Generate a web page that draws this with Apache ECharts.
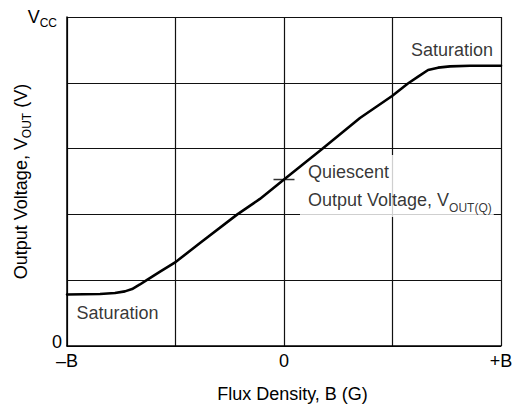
<!DOCTYPE html>
<html>
<head>
<meta charset="utf-8">
<script src="https://cdn.jsdelivr.net/npm/echarts@6/dist/echarts.min.js"></script>
<style>html,body{margin:0;padding:0;background:#fff}#c{width:516px;height:405px}</style>
</head>
<body>
<div id="c"></div>
<script>
// ---- data (normalised: B from -1 (–B) to +1 (+B), Vout from 0 to 1 (Vcc)) ----
const fluxB = [-1, -0.848, -0.779, -0.733, -0.700, -0.664, -0.631, -0.571, -0.498, -0.387, -0.215, -0.111, 0.0, 0.174, 0.350, 0.498, 0.571, 0.618, 0.664, 0.710, 0.765, 0.857, 1.0];
const vOut  = [0.1565, 0.158, 0.161, 0.166, 0.173, 0.187, 0.201, 0.226, 0.256, 0.313, 0.400, 0.447, 0.506, 0.598, 0.693, 0.760, 0.798, 0.819, 0.839, 0.846, 0.850, 0.852, 0.852];
const xTickValues = [-1, -0.5, 0, 0.5, 1];
const xTickLabels = ['–B', '', '0', '', '+B'];
const yTickValues = [0, 0.2, 0.4, 0.6, 0.8, 1];
const yTickLabels = ['{z|0}', '', '', '', '', '{v|V}{s|CC}'];
const quiescentPoint = [0, 0.506];
const annotationText = ['Saturation', 'Saturation'];
const annotationPos = [[0.774, 0.90], [-0.767, 0.10]];
const quiescentLabelPos = [0.0737, 0.486];

const FONT = "'Liberation Sans', Arial, Helvetica, sans-serif";
const FS = 18;
const chart = echarts.init(document.getElementById('c'), null, {renderer: 'svg'});

const option = {
  animation: false,
  backgroundColor: '#fff',
  textStyle: {fontFamily: FONT, color: '#000'},
  grid: {left: 67, right: 15, top: 17, bottom: 59, show: false, containLabel: false, outerBoundsMode: 'none'},
  xAxis: {
    type: 'value', min: -1, max: 1, interval: 0.5,
    name: 'Flux Density, B (G)', nameLocation: 'middle', nameGap: 39, nameMoveOverlap: false,
    nameTextStyle: {fontSize: FS, fontFamily: FONT, color: '#000', padding: [0, 0, 0, 17]},
    axisLine: {show: true, onZero: false, lineStyle: {color: '#000', width: 1.5}},
    axisTick: {show: false},
    splitLine: {show: true, lineStyle: {color: '#111', width: 1.2}},
    axisLabel: {
      fontSize: FS, fontFamily: FONT, color: '#000', margin: 6,
      formatter: v => { const i = xTickValues.findIndex(t => Math.abs(t - v) < 1e-9); return i >= 0 ? xTickLabels[i] : ''; }
    }
  },
  yAxis: {
    type: 'value', min: 0, max: 1, interval: 0.2,
    name: '{m|Output Voltage, V}{s|OUT}{m| (V)}', nameLocation: 'middle', nameGap: 34, nameRotate: 90, nameMoveOverlap: false,
    nameTextStyle: {
      fontFamily: FONT, color: '#000',
      rich: {
        m: {fontSize: FS, fontFamily: FONT, lineHeight: 24, verticalAlign: 'middle'},
        s: {fontSize: 12, fontFamily: FONT, lineHeight: 12, verticalAlign: 'bottom'}
      }
    },
    axisLine: {show: true, onZero: false, lineStyle: {color: '#000', width: 1.5}},
    axisTick: {show: false},
    splitLine: {show: true, lineStyle: {color: '#111', width: 1.2}},
    axisLabel: {
      fontFamily: FONT, color: '#000', margin: 5,
      formatter: v => { const i = yTickValues.findIndex(t => Math.abs(t - v) < 1e-9); return i >= 0 ? yTickLabels[i] : ''; },
      rich: {
        z: {fontSize: FS, fontFamily: FONT, padding: [0, 0, 8, 0]},
        v: {fontSize: FS, fontFamily: FONT, lineHeight: 24, verticalAlign: 'middle'},
        s: {fontSize: 12, fontFamily: FONT, lineHeight: 12, verticalAlign: 'bottom', padding: [0, 5, 0, 0]}
      }
    }
  },
  series: [
    {
      type: 'line', name: 'Vout',
      data: fluxB.map((b, i) => [b, vOut[i]]),
      smooth: false,
      symbol: 'none', lineStyle: {color: '#000', width: 2.6, join: 'round', cap: 'round'},
      z: 5
    },
    {
      type: 'scatter', name: 'quiescent tick',
      data: [quiescentPoint],
      symbol: 'rect', symbolSize: [21, 1.5],
      itemStyle: {color: '#000'}, z: 6, silent: true
    },
    {
      type: 'scatter', name: 'annotations',
      data: annotationPos.map((p, i) => ({value: p, name: annotationText[i]})),
      symbolSize: 0, silent: true, z: 4,
      label: {show: true, position: 'inside', formatter: p => p.name, fontSize: FS, fontFamily: FONT, color: '#000'}
    },
    {
      type: 'scatter', name: 'quiescent label',
      data: [quiescentLabelPos],
      symbolSize: 0, silent: true, z: 3,
      label: {
        show: true, position: 'right', distance: 0, align: 'left',
        formatter: '{m|Quiescent}\n{m|Output Voltage, V}{s|OUT(Q)}',
        backgroundColor: '#fff', padding: [3, 2, 3, 8],
        rich: {
          m: {fontSize: FS, fontFamily: FONT, color: '#000', lineHeight: 28, verticalAlign: 'middle'},
          s: {fontSize: 12, fontFamily: FONT, color: '#000', lineHeight: 12, verticalAlign: 'bottom'}
        }
      }
    }
  ]
};
chart.setOption(option);
</script>
</body>
</html>
